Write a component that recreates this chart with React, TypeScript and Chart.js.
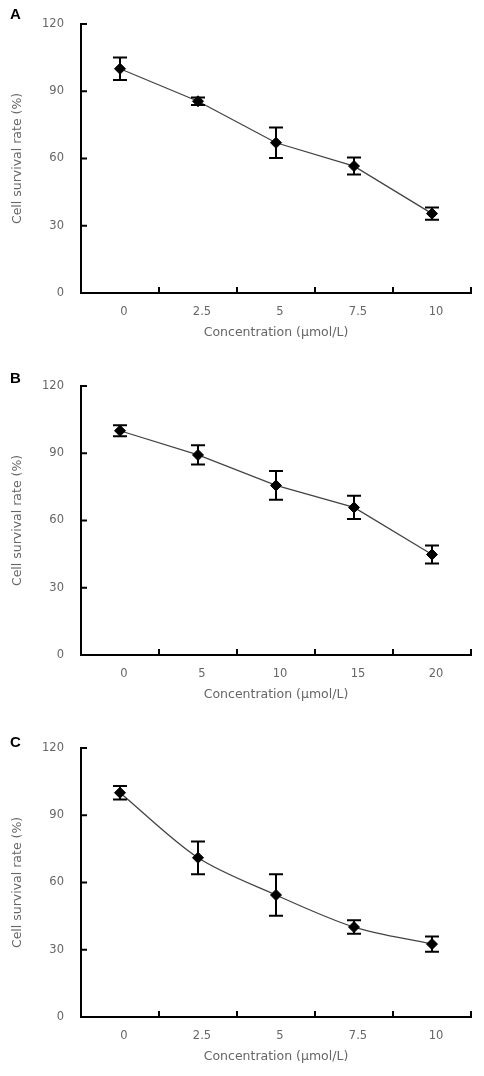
import React, { useEffect, useRef } from "react";
import { Chart, registerables } from "chart.js";
Chart.register(...registerables);

const labelsA = ["0", "2.5", "5", "7.5", "10"];
const valuesA = [100, 85.5, 67, 56.6, 35.4];
const errorsA = [5, 1.7, 6.8, 3.8, 2.7];

const labelsB = ["0", "5", "10", "15", "20"];
const valuesB = [100, 89.2, 75.6, 65.8, 44.8];
const errorsB = [2.5, 4.3, 6.4, 5.2, 4];

const labelsC = ["0", "2.5", "5", "7.5", "10"];
const valuesC = [100, 71, 54.4, 40.1, 32.5];
const errorsC = [3, 7.3, 9.3, 3, 3.4];

const yTicks = [0, 30, 60, 90, 120];
const xTitle = "Concentration (μmol/L)";
const yTitle = "Cell survival rate (%)";

const FONT = "'DejaVu Sans', Verdana, sans-serif";
const GRAY = "#666";

const decorPlugin = {
  id: "decor",
  afterDatasetsDraw(chart: any) {
    const { ctx } = chart;
    const xs = chart.scales.x;
    const ys = chart.scales.y;
    const vals: number[] = chart.data.datasets[0].data;
    const errs: number[] = chart.options.plugins.decor.errors;
    ctx.save();
    ctx.strokeStyle = "#000";
    ctx.lineWidth = 2;
    vals.forEach((v, i) => {
      const x = xs.getPixelForValue(i);
      const yt = ys.getPixelForValue(v + errs[i]);
      const yb = ys.getPixelForValue(v - errs[i]);
      ctx.beginPath();
      ctx.moveTo(x, yt);
      ctx.lineTo(x, yb);
      ctx.moveTo(x - 7, yt);
      ctx.lineTo(x + 7, yt);
      ctx.moveTo(x - 7, yb);
      ctx.lineTo(x + 7, yb);
      ctx.stroke();
    });
    ctx.restore();
  },
  afterDraw(chart: any) {
    const { ctx, chartArea } = chart;
    const xs = chart.scales.x;
    const ys = chart.scales.y;
    ctx.save();
    ctx.strokeStyle = "#000";
    ctx.lineWidth = 2;
    ctx.beginPath();
    yTicks.forEach((t) => {
      const y = ys.getPixelForValue(t);
      ctx.moveTo(chartArea.left, y);
      ctx.lineTo(chartArea.left + 6, y);
    });
    const n = chart.data.labels.length;
    for (let i = 1; i <= n; i++) {
      const x = xs.getPixelForValue(i - 0.5);
      ctx.moveTo(x, chartArea.bottom);
      ctx.lineTo(x, chartArea.bottom - 6);
    }
    ctx.stroke();
    ctx.restore();
  },
};

function Panel({
  labels,
  values,
  errors,
  tension,
}: {
  labels: string[];
  values: number[];
  errors: number[];
  tension: number;
}) {
  const ref = useRef<HTMLCanvasElement>(null);
  useEffect(() => {
    if (!ref.current) return;
    const chart = new Chart(ref.current, {
      type: "line",
      data: {
        labels,
        datasets: [
          {
            data: values,
            borderColor: "#444",
            borderWidth: 1.3,
            tension,
            pointStyle: "rectRot",
            pointRadius: 5.5,
            pointBackgroundColor: "#000",
            pointBorderColor: "#000",
            pointBorderWidth: 1,
          },
        ],
      },
      options: {
        responsive: false,
        animation: false,
        layout: { padding: { top: 13, right: 13, left: 0, bottom: 0 } },
        plugins: {
          legend: { display: false },
          tooltip: { enabled: false },
          decor: { errors },
        } as any,
        scales: {
          x: {
            type: "category",
            offset: true,
            grid: { display: false, drawTicks: false, offset: true },
            border: { display: true, color: "#000", width: 2 },
            ticks: {
              color: GRAY,
              font: { family: FONT, size: 11.5 },
              padding: 12,
              labelOffset: 4,
              maxRotation: 0,
            },
            title: {
              display: true,
              text: xTitle,
              color: GRAY,
              font: { family: FONT, size: 12.5 },
              padding: { top: 0, bottom: 12 },
            },
            afterFit: (s: any) => {
              s.height = 59;
            },
          },
          y: {
            min: 0,
            max: 120,
            grid: { display: false, drawTicks: false },
            border: { display: true, color: "#000", width: 2 },
            ticks: {
              stepSize: 30,
              color: GRAY,
              font: { family: FONT, size: 11.5 },
              padding: 17,
            },
            title: {
              display: true,
              text: yTitle,
              color: GRAY,
              font: { family: FONT, size: 12.5 },
              padding: { top: 10, bottom: 0 },
            },
            afterFit: (s: any) => {
              s.width = 81;
            },
          },
        },
      },
      plugins: [decorPlugin],
    });
    return () => chart.destroy();
  }, []);
  return <canvas ref={ref} width={484} height={352} style={{ display: "block" }} />;
}

const letterStyle: React.CSSProperties = {
  position: "absolute",
  left: 10,
  fontFamily: "'Liberation Sans', Arial, sans-serif",
  fontWeight: "bold",
  fontSize: 15,
  lineHeight: "15px",
  color: "#000",
};

export default function App() {
  return (
    <div style={{ position: "absolute", left: 0, top: 0, width: 484, height: 1076, background: "#fff" }}>
      <div style={{ position: "absolute", top: 0, left: 0 }}>
        <Panel labels={labelsA} values={valuesA} errors={errorsA} tension={0} />
      </div>
      <div style={{ position: "absolute", top: 362, left: 0 }}>
        <Panel labels={labelsB} values={valuesB} errors={errorsB} tension={0} />
      </div>
      <div style={{ position: "absolute", top: 724, left: 0 }}>
        <Panel labels={labelsC} values={valuesC} errors={errorsC} tension={0.3} />
      </div>
      <div style={{ ...letterStyle, top: 6 }}>A</div>
      <div style={{ ...letterStyle, top: 370 }}>B</div>
      <div style={{ ...letterStyle, top: 733.5 }}>C</div>
    </div>
  );
}
